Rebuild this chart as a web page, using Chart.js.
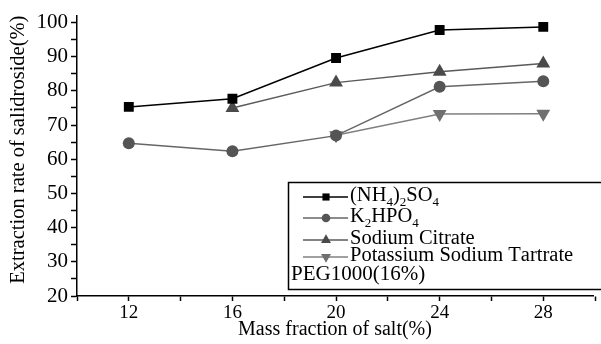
<!DOCTYPE html>
<html>
<head>
<meta charset="utf-8">
<script src="https://cdn.jsdelivr.net/npm/chart.js@4.4.1/dist/chart.umd.min.js"></script>
<style>
  html, body { margin: 0; padding: 0; background: #fff; }
  #wrap { width: 601px; height: 344px; position: relative; }
</style>
</head>
<body>
<div id="wrap"><canvas id="chart"></canvas></div>
<script>
"use strict";

// ── Data ───────────────────────────────────────────────────
const saltFraction = [12, 16, 20, 24, 28];                 // mass fraction of salt (%)
const ammoniumSulfate = [75.3, 77.7, 89.6, 97.8, 98.7];
const dipotassiumPhosphate = [64.7, 62.3, 66.9, 81.2, 82.8];
const sodiumCitrate = [null, 75.0, 82.4, 85.6, 88.0];
const potassiumTartrate = [null, null, 67.0, 73.2, 73.3];

const seriesLabels = ["(NH4)2SO4", "K2HPO4", "Sodium Citrate", "Potassium Sodium Tartrate"];
const legendNote = "PEG1000(16%)";

const xTickValues = [10, 12, 14, 16, 18, 20, 22, 24, 26, 28, 30];
const xTickLabels = [12, 16, 20, 24, 28];
const yTickValues = [20, 25, 30, 35, 40, 45, 50, 55, 60, 65, 70, 75, 80, 85, 90, 95, 100];
const yTickLabels = [20, 30, 40, 50, 60, 70, 80, 90, 100];

const SERIF = "'Liberation Serif', 'DejaVu Serif', serif";

/** Pair the x values with one series, dropping the missing points. */
function points(values) {
  return saltFraction
    .map((x, i) => ({ x, y: values[i] }))
    .filter((p) => p.y !== null);
}

function series(label, values, color, lineColor, style, radius, rotation = 0) {
  return {
    label,
    data: points(values),
    borderColor: lineColor,
    backgroundColor: color,
    pointBackgroundColor: color,
    pointBorderColor: color,
    pointStyle: style,
    pointRadius: radius,
    pointRotation: rotation,
    borderWidth: 1.5,
    pointBorderWidth: 0,
    tension: 0,
  };
}

const datasets = [
  series(seriesLabels[0], ammoniumSulfate, "#000", "#000", "rect", 7),
  series(seriesLabels[1], dipotassiumPhosphate, "#555", "#666", "circle", 6),
  series(seriesLabels[2], sodiumCitrate, "#4a4a4a", "#5a5a5a", "triangle", 8),
  series(seriesLabels[3], potassiumTartrate, "#707070", "#808080", "triangle", 8, 180),
];

// ── Legend with chemical subscripts ────────────────────────
/** Draw text where digits after a letter or ')' are set as subscripts. */
function drawChem(ctx, text, x, y, size) {
  let cx = x;
  for (let i = 0; i < text.length; i++) {
    const ch = text[i];
    const sub = /\d/.test(ch) && i > 0 && /[A-Z)]/.test(text[i - 1]);
    ctx.font = `${sub ? Math.round(size * 0.62) : size}px ${SERIF}`;
    ctx.fillText(ch, cx, sub ? y + size * 0.32 : y);
    cx += ctx.measureText(ch).width;
  }
}

const boxLegendPlugin = {
  id: "boxLegend",
  afterDraw(chart) {
    const ctx = chart.ctx;
    const box = { left: 288.5, top: 182.5, right: 620, bottom: 289.5 };
    const rows = [197, 218, 240, 257];
    ctx.save();
    ctx.strokeStyle = "#000";
    ctx.lineWidth = 1.5;
    ctx.strokeRect(box.left, box.top, box.right - box.left, box.bottom - box.top);

    chart.data.datasets.forEach((ds, i) => {
      const y = rows[i];
      ctx.strokeStyle = ds.borderColor;
      ctx.lineWidth = 1.5;
      ctx.beginPath();
      ctx.moveTo(303, y);
      ctx.lineTo(348, y);
      ctx.stroke();
      ctx.fillStyle = ds.pointBackgroundColor;
      ctx.strokeStyle = ds.pointBackgroundColor;
      Chart.helpers.drawPoint(ctx, {
        pointStyle: ds.pointStyle,
        rotation: ds.pointRotation,
        radius: ds.pointRadius * 0.72,
        borderWidth: 0,
      }, 326, y);
      ctx.fillStyle = "#000";
      ctx.textBaseline = "middle";
      ctx.textAlign = "left";
      drawChem(ctx, ds.label, 350, y - 1, 20.5);
    });

    ctx.font = `21px ${SERIF}`;
    ctx.fillStyle = "#000";
    ctx.textBaseline = "middle";
    ctx.fillText(legendNote, 291, 274);
    ctx.restore();
  },
};

// ── Chart ──────────────────────────────────────────────────
const axisColor = "#000";

new Chart(document.getElementById("chart"), {
  type: "line",
  data: { datasets },
  options: {
    responsive: true,
    maintainAspectRatio: false,
    animation: false,
    layout: { padding: { left: 0, right: 0, top: 6, bottom: 0 } },
    plugins: {
      legend: { display: false },
      tooltip: { enabled: false },
    },
    scales: {
      x: {
        type: "linear",
        min: 10,
        max: 29.92,
        afterBuildTicks: (scale) => { scale.ticks = xTickValues.map((v) => ({ value: v })); },
        afterFit: (scale) => { scale.height = 48; },
        ticks: {
          autoSkip: false,
          maxRotation: 0,
          color: "#000",
          padding: 1,
          font: { family: SERIF, size: 19 },
          callback: (v) => (xTickLabels.includes(v) ? String(v) : ""),
        },
        grid: { drawOnChartArea: false, drawTicks: true, tickLength: 5, tickColor: axisColor, tickWidth: 1.5 },
        border: { display: true, color: axisColor, width: 1.5 },
        title: {
          display: true,
          text: "Mass fraction of salt(%)",
          color: "#000",
          font: { family: SERIF, size: 20 },
          padding: { top: 0, bottom: 2 },
        },
      },
      y: {
        type: "linear",
        min: 20,
        max: 102,
        afterBuildTicks: (scale) => { scale.ticks = yTickValues.map((v) => ({ value: v })); },
        afterFit: (scale) => { scale.width = 77; },
        ticks: {
          autoSkip: false,
          color: "#000",
          padding: 3,
          font: { family: SERIF, size: 21 },
          callback: (v) => (yTickLabels.includes(v) ? String(v) : ""),
        },
        grid: { drawOnChartArea: false, drawTicks: true, tickLength: 6, tickColor: axisColor, tickWidth: 1.5 },
        border: { display: true, color: axisColor, width: 1.5 },
        title: {
          display: true,
          align: "end",
          text: "Extraction rate of salidroside(%)",
          color: "#000",
          font: { family: SERIF, size: 20.5 },
          padding: { top: 6, bottom: 0 },
        },
      },
    },
  },
  plugins: [boxLegendPlugin],
});
</script>
</body>
</html>
